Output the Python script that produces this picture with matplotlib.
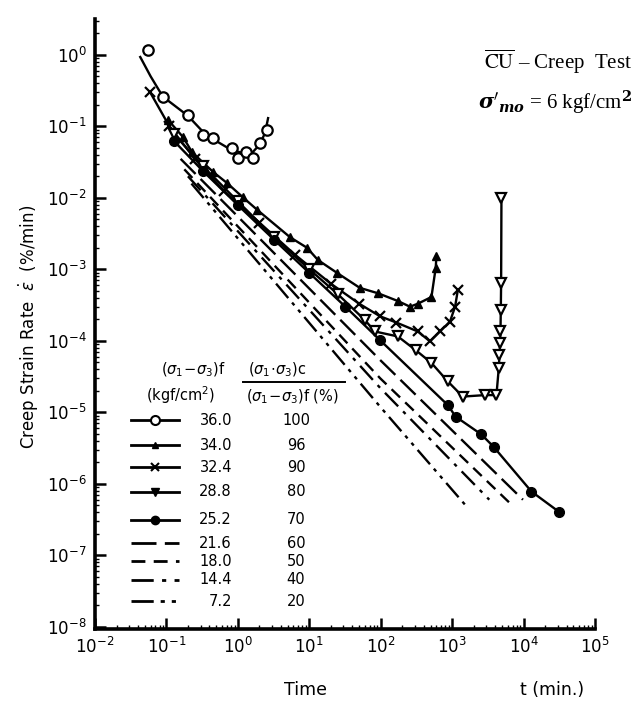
import numpy as np
import matplotlib
matplotlib.use("Agg")
import matplotlib.pyplot as plt
from matplotlib.lines import Line2D
from matplotlib.ticker import LogLocator, LogFormatterMathtext, NullFormatter, FixedLocator

plt.rcParams['font.family'] = ['DejaVu Sans']
plt.rcParams['mathtext.fontset'] = 'dejavusans'

# ---------------- data ----------------
# 36.0 kgf/cm2 (open circles)
t_36 = [0.055, 0.089, 0.20, 0.32, 0.45, 0.83, 1.0, 1.29, 1.62, 2.04, 2.57]
r_36 = [1.17, 0.26, 0.145, 0.076, 0.069, 0.050, 0.036, 0.044, 0.036, 0.059, 0.089]
curve_t_36 = [0.043, 0.060, 0.089, 0.20, 0.32, 0.50, 0.80, 1.20, 1.60, 2.00, 2.40, 2.65]
curve_r_36 = [0.93, 0.50, 0.26, 0.14, 0.085, 0.062, 0.047, 0.042, 0.043, 0.055, 0.080, 0.13]

# 34.0 (filled triangles)
t_34 = [0.105, 0.17, 0.23, 0.45, 0.71, 1.17, 1.86, 5.4, 9.3, 13.2, 24.5, 51, 93, 174, 257, 331, 513, 589, 603]
r_34 = [0.123, 0.071, 0.043, 0.023, 0.016, 0.0102, 0.0068, 0.0028, 0.0020, 0.00135,
        8.9e-4, 5.5e-4, 4.6e-4, 3.6e-4, 3.0e-4, 3.3e-4, 4.1e-4, 1.05e-3, 1.55e-3]

# 32.4 (crosses)
t_32 = [0.059, 0.11, 0.25, 0.63, 2.0, 6.3, 20, 50, 98, 166, 331, 490, 676, 933, 1100, 1200]
r_32 = [0.30, 0.10, 0.035, 0.0126, 0.0045, 0.0016, 6.3e-4, 3.3e-4, 2.2e-4, 1.8e-4,
        1.35e-4, 9.8e-5, 1.35e-4, 1.86e-4, 3.0e-4, 5.1e-4]

# 28.8 (open down triangles)
t_28 = [0.126, 0.32, 1.0, 3.2, 10, 25, 60, 83, 174, 309, 513, 871, 1410, 2880, 4170,
        4500, 4600, 4700, 4750, 4800, 4850, 4900]
r_28 = [0.079, 0.028, 0.0089, 0.0028, 0.001, 4.5e-4, 1.95e-4, 1.35e-4, 1.15e-4, 7.4e-5,
        4.9e-5, 2.7e-5, 1.66e-5, 1.74e-5, 1.74e-5,
        4.2e-5, 6.3e-5, 9.3e-5, 1.35e-4, 2.7e-4, 6.5e-4, 9.8e-3]

# 25.2 (filled circles)
t_25 = [0.126, 0.32, 1.0, 3.2, 10, 32, 98, 871, 1120, 2570, 3800, 12900, 30900]
r_25 = [0.063, 0.024, 0.0079, 0.0026, 8.9e-4, 3.0e-4, 1.02e-4, 1.26e-5, 8.7e-6,
        4.9e-6, 3.3e-6, 7.8e-7, 4.1e-7]

# lines without markers
t_21 = [0.158, 98, 9800]
r_21 = [0.035, 5.4e-5, 6.0e-7]
t_18 = [0.178, 98, 7080]
r_18 = [0.025, 3.0e-5, 4.9e-7]
t_14 = [0.20, 98, 3310]
r_14 = [0.020, 2.2e-5, 6.0e-7]
t_07 = [0.224, 98, 1660]
r_07 = [0.0158, 1.2e-5, 4.6e-7]

stress_f = ['36.0', '34.0', '32.4', '28.8', '25.2', '21.6', '18.0', '14.4', '7.2']
ratio = ['100', '96', '90', '80', '70', '60', '50', '40', '20']
x_ticks = [1e-2, 1e-1, 1e0, 1e1, 1e2, 1e3, 1e4, 1e5]
y_ticks = [1e-8, 1e-7, 1e-6, 1e-5, 1e-4, 1e-3, 1e-2, 1e-1, 1e0]

# ---------------- figure ----------------
W, H = 635, 703
fig = plt.figure(figsize=(W / 100, H / 100), dpi=100)
fig.patch.set_facecolor('white')
ax = fig.add_axes([95 / W, 1 - 629 / H, 500 / W, 610 / H])
ax.set_xscale('log')
ax.set_yscale('log')
ax.set_xlim(1e-2, 1e5)
ax.set_ylim(10 ** -8.03, 10 ** 0.5)

for s in ['top', 'right']:
    ax.spines[s].set_visible(False)
for s in ['left', 'bottom']:
    ax.spines[s].set_linewidth(2.6)

ax.xaxis.set_major_locator(FixedLocator(x_ticks))
ax.yaxis.set_major_locator(FixedLocator(y_ticks))
ax.xaxis.set_minor_locator(LogLocator(base=10, subs=np.arange(2, 10), numticks=20))
ax.yaxis.set_minor_locator(LogLocator(base=10, subs=np.arange(2, 10), numticks=20))
ax.xaxis.set_minor_formatter(NullFormatter())
ax.yaxis.set_minor_formatter(NullFormatter())
ax.xaxis.set_major_formatter(LogFormatterMathtext())
ax.yaxis.set_major_formatter(LogFormatterMathtext())
ax.tick_params(which='major', direction='in', length=8, width=1.8, labelsize=12, pad=6)
ax.tick_params(which='minor', direction='in', length=3, width=1.0)

lw = 1.7
k = 'black'
ax.plot(curve_t_36, curve_r_36, '-', color=k, lw=lw)
ax.plot(t_36, r_36, 'o', ms=7.5, mfc='white', mec=k, mew=1.6, ls='none')
ax.plot(t_34, r_34, '-^', color=k, lw=lw, ms=6, mfc=k, mec=k)
ax.plot(t_32, r_32, '-x', color=k, lw=lw, ms=6.5, mew=1.6)
ax.plot(t_28, r_28, '-v', color=k, lw=lw, ms=7, mfc='white', mec=k, mew=1.6)
ax.plot(t_25, r_25, '-o', color=k, lw=lw, ms=7, mfc=k, mec=k)
ax.plot(t_21, r_21, color=k, lw=lw, ls=(0, (9, 3)))
ax.plot(t_18, r_18, color=k, lw=lw, ls=(0, (5, 3)))
ax.plot(t_14, r_14, color=k, lw=lw, ls=(0, (8, 3, 1.5, 3)))
ax.plot(t_07, r_07, color=k, lw=lw, ls=(0, (8, 2.5, 1.5, 2.5, 1.5, 2.5)))


def fx(x):
    return x / W


def fy(y):
    return 1 - y / H


# ---------------- legend table ----------------
fs = 10.5
fig.text(fx(193), fy(370), r'$(\sigma_1\!-\!\sigma_3)$f', ha='center', va='center', fontsize=fs)
fig.text(fx(181), fy(395), r'(kgf/cm$^2$)', ha='center', va='center', fontsize=fs)
fig.text(fx(248), fy(370), r'$(\sigma_1\!\cdot\!\sigma_3)$c', ha='left', va='center', fontsize=fs)
fig.add_artist(Line2D([fx(243), fx(345)], [fy(382), fy(382)], transform=fig.transFigure,
                      color=k, lw=1.4))
fig.text(fx(246), fy(397), r'$(\sigma_1\!-\!\sigma_3)$f (%)', ha='left', va='center', fontsize=fs)

row_y = [420, 445, 467, 492, 520, 543, 561, 580, 601]
styles = [
    dict(ls='-', marker='o', ms=6.5, mfc='white', mec=k, mew=1.5),
    dict(ls='-', marker='^', ms=5, mfc=k, mec=k),
    dict(ls='-', marker='x', ms=5.5, mew=1.5),
    dict(ls='-', marker='v', ms=6, mfc=k, mec=k),
    dict(ls='-', marker='o', ms=6, mfc=k, mec=k),
    dict(ls=(0, (9, 3))),
    dict(ls=(0, (5, 3))),
    dict(ls=(0, (8, 3, 1.5, 3))),
    dict(ls=(0, (8, 2.5, 1.5, 2.5, 1.5, 2.5))),
]
for yy, st, sf, rt in zip(row_y, styles, stress_f, ratio):
    xs = [fx(131), fx(155), fx(179)] if 'marker' in st else [fx(131), fx(179)]
    ln = Line2D(xs, [fy(yy)] * len(xs), transform=fig.transFigure, color=k, lw=2.0,
                markevery=[1] if 'marker' in st else None, **st)
    fig.add_artist(ln)
    fig.text(fx(232), fy(yy), sf, ha='right', va='center', fontsize=fs)
    fig.text(fx(296), fy(yy), rt, ha='center', va='center', fontsize=fs)

# ---------------- annotations ----------------
fig.text(fx(29), fy(327), r'Creep Strain Rate  $\dot{\varepsilon}$  (%/min)', rotation=90,
         ha='center', va='center', fontsize=12)
fig.text(fx(305), fy(690), 'Time', ha='center', va='center', fontsize=12.5)
fig.text(fx(552), fy(690), 't (min.)', ha='center', va='center', fontsize=12.5)

fig.text(fx(632), fy(62), r'$\overline{\mathrm{CU}}$ – Creep  Test', ha='right', va='center',
         fontsize=15, family='Liberation Serif', math_fontfamily='stix')
fig.text(fx(632), fy(103), r"$\boldsymbol{\sigma}'_{\boldsymbol{mo}}$ = 6 kgf/cm$^{\mathbf{2}}$",
         ha='right', va='center', fontsize=15, family='Liberation Serif',
         math_fontfamily='dejavuserif')

fig.savefig('out.png', dpi=100, facecolor='white')
